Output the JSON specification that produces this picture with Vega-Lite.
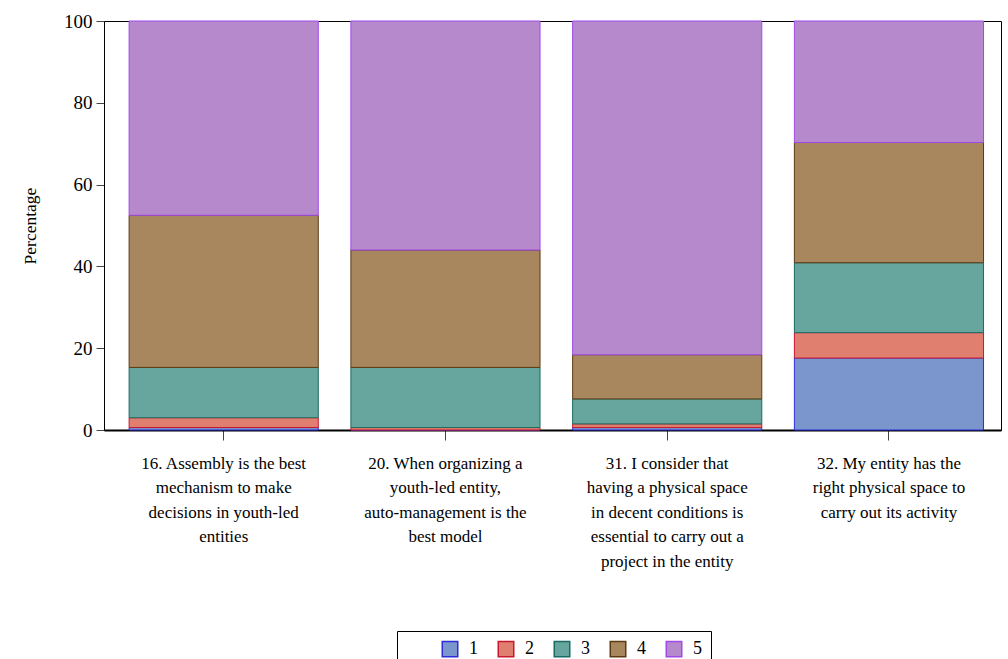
{
  "$schema": "https://vega.github.io/schema/vega-lite/v6.json",
  "width": 897,
  "height": 409,
  "autosize": {"type": "none"},
  "padding": {"left": 104, "top": 21, "right": 7, "bottom": 229},
  "background": "white",
  "config": {
    "font": "Liberation Serif",
    "view": {"stroke": "black", "strokeWidth": 1},
    "axis": {"labelFont": "Liberation Serif", "titleFont": "Liberation Serif"},
    "legend": {"labelFont": "Liberation Serif", "titleFont": "Liberation Serif"}
  },
  "data": {
    "values": [
      {"item": "16. Assembly is the best mechanism to make decisions in youth-led entities", "level": 1, "pct": 0.6},
      {"item": "16. Assembly is the best mechanism to make decisions in youth-led entities", "level": 2, "pct": 2.4},
      {"item": "16. Assembly is the best mechanism to make decisions in youth-led entities", "level": 3, "pct": 12.3},
      {"item": "16. Assembly is the best mechanism to make decisions in youth-led entities", "level": 4, "pct": 37.2},
      {"item": "16. Assembly is the best mechanism to make decisions in youth-led entities", "level": 5, "pct": 47.5},
      {"item": "20. When organizing a youth-led entity, auto-management is the best model", "level": 1, "pct": 0.0},
      {"item": "20. When organizing a youth-led entity, auto-management is the best model", "level": 2, "pct": 0.6},
      {"item": "20. When organizing a youth-led entity, auto-management is the best model", "level": 3, "pct": 14.7},
      {"item": "20. When organizing a youth-led entity, auto-management is the best model", "level": 4, "pct": 28.7},
      {"item": "20. When organizing a youth-led entity, auto-management is the best model", "level": 5, "pct": 56.0},
      {"item": "31. I consider that having a physical space in decent conditions is essential to carry out a project in the entity", "level": 1, "pct": 0.6},
      {"item": "31. I consider that having a physical space in decent conditions is essential to carry out a project in the entity", "level": 2, "pct": 0.9},
      {"item": "31. I consider that having a physical space in decent conditions is essential to carry out a project in the entity", "level": 3, "pct": 6.1},
      {"item": "31. I consider that having a physical space in decent conditions is essential to carry out a project in the entity", "level": 4, "pct": 10.8},
      {"item": "31. I consider that having a physical space in decent conditions is essential to carry out a project in the entity", "level": 5, "pct": 81.6},
      {"item": "32. My entity has the right physical space to carry out its activity", "level": 1, "pct": 17.6},
      {"item": "32. My entity has the right physical space to carry out its activity", "level": 2, "pct": 6.2},
      {"item": "32. My entity has the right physical space to carry out its activity", "level": 3, "pct": 17.1},
      {"item": "32. My entity has the right physical space to carry out its activity", "level": 4, "pct": 29.4},
      {"item": "32. My entity has the right physical space to carry out its activity", "level": 5, "pct": 29.7}
    ]
  },
  "mark": {"type": "bar", "strokeWidth": 1},
  "encoding": {
    "x": {
      "field": "item",
      "type": "nominal",
      "sort": null,
      "scale": {"paddingInner": 0.147, "paddingOuter": 0.096, "align": 0.59},
      "axis": {
        "title": null,
        "labelAngle": 0,
        "labelFont": "Liberation Serif",
        "labelFontSize": 17,
        "labelColor": "black",
        "labelLineHeight": 24.5,
        "labelPadding": 15,
        "labelLimit": 0,
        "tickSize": 10,
        "tickColor": "#444",
        "domainColor": "black",
        "domainWidth": 2,
        "labelExpr": "indexof(datum.value, '16.') == 0 ? ['16. Assembly is the best', 'mechanism to make', 'decisions in youth-led', 'entities'] : indexof(datum.value, '20.') == 0 ? ['20. When organizing a', 'youth-led entity,', 'auto-management is the', 'best model'] : indexof(datum.value, '31.') == 0 ? ['31. I consider that', 'having a physical space', 'in decent conditions is', 'essential to carry out a', 'project in the entity'] : ['32. My entity has the', 'right physical space to', 'carry out its activity']"
      }
    },
    "y": {
      "field": "pct",
      "type": "quantitative",
      "stack": "zero",
      "scale": {"domain": [0, 100], "nice": false},
      "axis": {
        "title": "Percentage",
        "titleFont": "Liberation Serif",
        "titleFontSize": 17.5,
        "titleFontWeight": "normal",
        "titleColor": "black",
        "titlePadding": 24,
        "labelFont": "Liberation Serif",
        "labelFontSize": 19,
        "labelColor": "black",
        "labelPadding": 4,
        "tickSize": 8,
        "tickColor": "#444",
        "values": [0, 20, 40, 60, 80, 100],
        "grid": false,
        "domainColor": "black"
      }
    },
    "order": {"field": "level", "type": "quantitative", "sort": "ascending"},
    "fill": {
      "field": "level",
      "type": "nominal",
      "scale": {"domain": [1, 2, 3, 4, 5], "range": ["#7b96cc", "#e07e70", "#67a59f", "#a8865e", "#b689cc"]},
      "legend": {
        "title": "\u00a0",
        "titleOrient": "left",
        "titleFontSize": 17,
        "titlePadding": 35,
        "orient": "none",
        "legendX": 293,
        "legendY": 610,
        "direction": "horizontal",
        "strokeColor": "black",
        "padding": 9,
        "symbolType": "square",
        "symbolSize": 240,
        "symbolStrokeWidth": 1.5,
        "labelFont": "Liberation Serif",
        "labelFontSize": 18,
        "labelColor": "black",
        "labelOffset": 10,
        "columnPadding": 17
      }
    },
    "stroke": {
      "field": "level",
      "type": "nominal",
      "scale": {"domain": [1, 2, 3, 4, 5], "range": ["#2d2dd8", "#c8182e", "#1b6b62", "#5c3a12", "#a048e8"]},
      "legend": {
        "title": "\u00a0",
        "titleOrient": "left",
        "titleFontSize": 17,
        "titlePadding": 35,
        "orient": "none",
        "legendX": 293,
        "legendY": 610,
        "direction": "horizontal",
        "strokeColor": "black",
        "padding": 9,
        "symbolType": "square",
        "symbolSize": 240,
        "labelFont": "Liberation Serif",
        "labelFontSize": 18,
        "labelColor": "black",
        "labelOffset": 10,
        "columnPadding": 17
      }
    }
  }
}
